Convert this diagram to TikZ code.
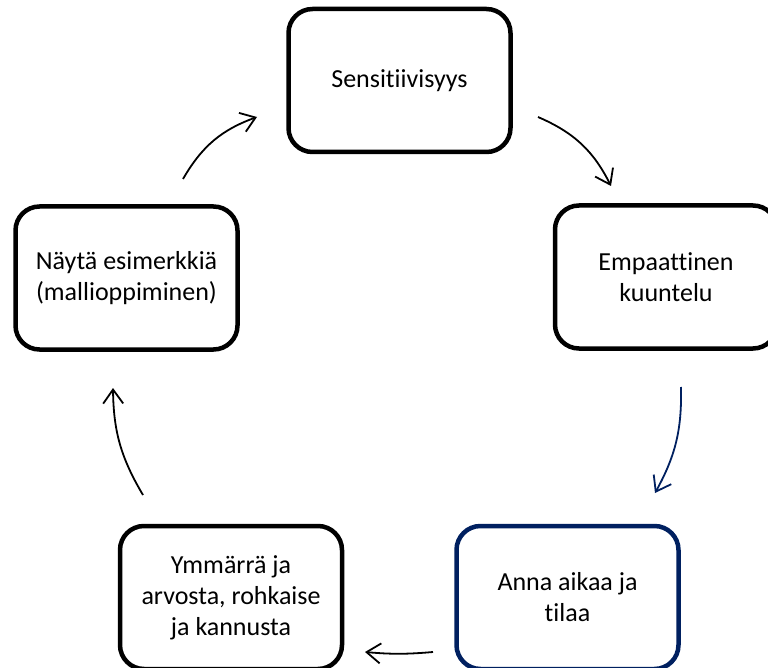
\documentclass[tikz,border=0pt]{standalone}
\usepackage{fontspec}
\setmainfont[Ligatures=NoCommon]{Carlito}
\usetikzlibrary{arrows.meta}
\definecolor{navy}{RGB}{0,32,96}
\begin{document}
\begin{tikzpicture}[x=1pt,y=-1pt,
  box/.style={draw=black, line width=4.5pt, rounded corners=24pt, minimum width=222pt, minimum height=143pt, align=center, font=\fontsize{26}{31}\selectfont, inner sep=0pt, fill=white},
  cyc/.style={line width=1.8pt, -{Straight Barb[length=14pt,width=20pt]}}]
\useasboundingbox (0,0) rectangle (768,668);
\clip (0,0) rectangle (768,668);
\node[box] (sens) at (399.5,80.5) {Sensitiivisyys};
\node[box] (emp) at (666,277) {Empaattinen\\kuuntelu};
\node[box, draw=navy] (anna) at (567.5,597.5) {Anna aikaa ja\\tilaa};
\node[box] (ymm) at (231,597.5) {Ymmärrä ja\\arvosta, rohkaise\\ja kannusta};
\node[box] (nay) at (126.5,278) {Näytä esimerkkiä\\(mallioppiminen)};
\coordinate (a1s) at (183,179); \coordinate (a1e) at (257,117);
\coordinate (a2s) at (538,117); \coordinate (a2e) at (611,186);
\coordinate (a3s) at (681,387); \coordinate (a3e) at (655,493);
\coordinate (a4s) at (433,652); \coordinate (a4e) at (365,652);
\coordinate (a5s) at (143,495); \coordinate (a5e) at (113,388);
\draw[cyc] (a1s) to[bend left=20] (a1e);
\draw[cyc] (a2s) to[bend left=20] (a2e);
\draw[cyc, draw=navy] (a3s) to[bend left=15] (a3e);
\draw[cyc] (a4s) to[bend left=5] (a4e);
\draw[cyc] (a5s) to[bend left=15] (a5e);
\end{tikzpicture}
\end{document}
